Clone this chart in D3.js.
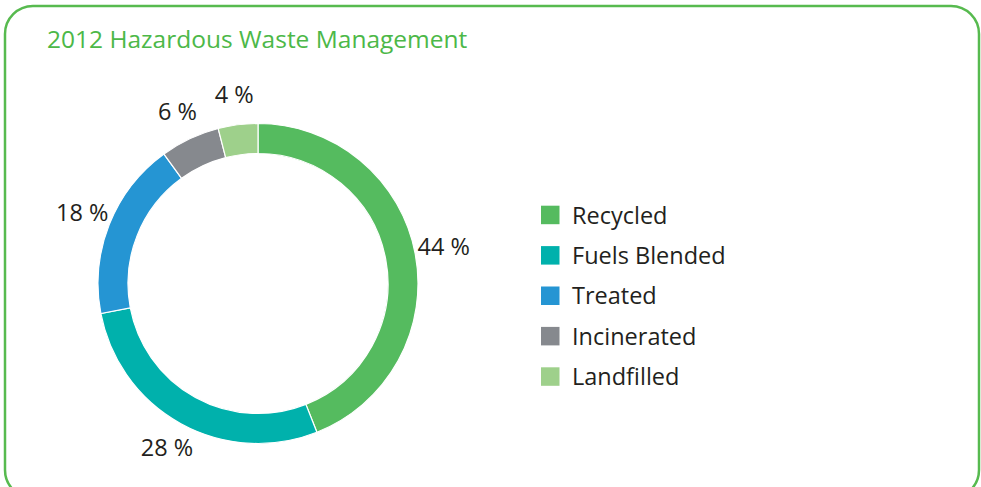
<!DOCTYPE html>
<html>
<head>
<meta charset="utf-8">
<script src="https://cdn.jsdelivr.net/npm/d3@7"></script>
<style>
  body { margin: 0; background: #fff; }
  text { font-family: "Open Sans", "Noto Sans", sans-serif; }
</style>
</head>
<body>
<div id="chart"></div>
<script>
// data
var categories = ["Recycled", "Fuels Blended", "Treated", "Incinerated", "Landfilled"];
var shares = [44, 28, 18, 6, 4];
var labels = ["44 %", "28 %", "18 %", "6 %", "4 %"];
var colors = ["#55bb5f", "#00b1ac", "#2595d3", "#86898e", "#9ed08b"];

var svgWidth = 981;
var svgHeight = 487;

var svg = d3.select("#chart")
  .append("svg")
  .attr("width", svgWidth)
  .attr("height", svgHeight);

// frame (bottom edge runs off the picture)
svg.append("rect")
  .attr("x", 5)
  .attr("y", 6)
  .attr("width", 974)
  .attr("height", 492)
  .attr("rx", 28)
  .attr("ry", 28)
  .attr("fill", "none")
  .attr("stroke", "#57ba4f")
  .attr("stroke-width", 2.5);

svg.append("text")
  .attr("x", 47)
  .attr("y", 48)
  .attr("fill", "#4cb848")
  .attr("font-size", "24.5px")
  .text("2012 Hazardous Waste Management");

// donut
var cx = 258, cy = 283.5;
var outerR = 160, innerR = 130;

var pie = d3.pie().sort(null).value(d => d);
var arcs = pie(shares);

var arc = d3.arc().innerRadius(innerR).outerRadius(outerR);
var labelArc = d3.arc().innerRadius(189).outerRadius(189);

var donut = svg.append("g")
  .attr("transform", `translate(${cx},${cy})`);

donut.selectAll("path")
  .data(arcs)
  .enter()
  .append("path")
  .attr("d", arc)
  .attr("fill", (d, i) => colors[i])
  .attr("stroke", "#fff")
  .attr("stroke-width", 1.2);

donut.selectAll("text")
  .data(arcs)
  .enter()
  .append("text")
  .attr("transform", d => `translate(${labelArc.centroid(d)})`)
  .attr("text-anchor", "middle")
  .attr("dy", "0.3em")
  .attr("font-size", "23.5px")
  .attr("fill", "#231f20")
  .text((d, i) => labels[i]);

// legend
var legendY = d3.scaleBand()
  .domain(categories)
  .range([195, 397]);

var legend = svg.append("g");

var rows = legend.selectAll("g")
  .data(categories)
  .enter()
  .append("g")
  .attr("transform", d => `translate(541,${legendY(d) + legendY.bandwidth() / 2})`);

rows.append("rect")
  .attr("x", 0)
  .attr("y", -9.5)
  .attr("width", 18.5)
  .attr("height", 18.5)
  .attr("fill", (d, i) => colors[i]);

rows.append("text")
  .attr("x", 31)
  .attr("dy", "0.36em")
  .attr("font-size", "23.5px")
  .attr("fill", "#231f20")
  .text(d => d);
</script>
</body>
</html>
